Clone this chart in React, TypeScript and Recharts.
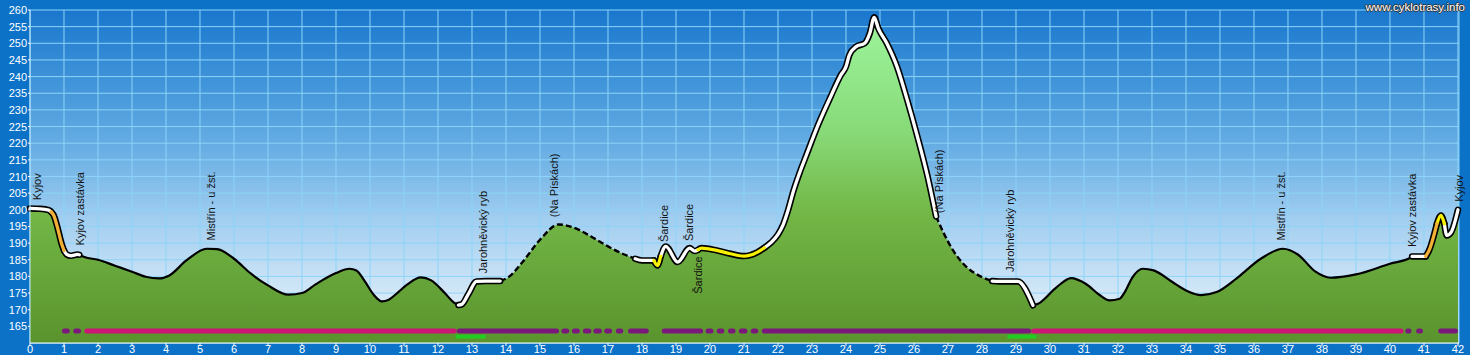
import React from "react";
import {
  Area,
  CartesianGrid,
  ComposedChart,
  Line,
  ReferenceLine,
  Scatter,
  XAxis,
  YAxis,
} from "recharts";

// elevation profile (km, m) - ten per row
const KM = [
  0, 0.3, 0.55, 0.62, 0.7, 0.8, 0.93, 1.0, 1.08, 1.2,
  1.4, 1.45, 1.6, 2.0, 2.5, 3.0, 3.4, 3.8, 4.1, 4.6,
  5.2, 5.5, 6.0, 6.5, 7.0, 7.6, 8.0, 8.4, 9.0, 9.4,
  9.6, 9.85, 10.1, 10.35, 10.55, 10.8, 11.1, 11.5, 11.8, 12.2,
  12.45, 12.6, 12.7, 12.9, 13.13, 13.4, 13.83, 14.1, 14.5, 15.0,
  15.55, 16.0, 16.5, 17.0, 17.5, 17.8, 18.0, 18.35, 18.45, 18.55,
  18.7, 19.05, 19.4, 19.55, 19.65, 19.75, 20.2, 20.6, 21.0, 21.4,
  21.6, 21.8, 22.0, 22.15, 22.3, 22.45, 22.65, 22.8, 23.2, 23.55,
  23.85, 24.0, 24.1, 24.3, 24.55, 24.7, 24.83, 24.95, 25.2, 25.5,
  25.8, 26.1, 26.4, 26.65, 26.85, 27.15, 27.55, 28.0, 28.3, 28.5,
  29.05, 29.5, 29.65, 30.2, 30.62, 31.05, 31.45, 31.75, 32.05, 32.2,
  32.43, 32.73, 33.05, 33.6, 34.0, 34.45, 34.9, 35.5, 36.2, 36.85,
  37.3, 37.8, 38.25, 39.0, 40.0, 40.6, 40.65, 41.05, 41.15, 41.38,
  41.5, 41.6, 41.67, 41.8, 42.0,
];
const ELE = [
  200.4, 200.3, 199.9, 199.4, 198.3, 195, 189.8, 187.8, 186.6, 186.2,
  186.6, 186.5, 185.8, 185, 183.2, 181.4, 179.9, 179.4, 180.3, 184.8,
  188.3, 188.2, 185.3, 180.8, 177.3, 174.5, 175, 177.6, 181, 182.3,
  181.8, 178.5, 174.6, 172.5, 173.0, 175, 177.6, 179.7, 178.8, 175,
  172.3, 171.4, 171.6, 174.8, 178.5, 178.6, 178.6, 180, 184.5, 191,
  195.6, 194.6, 192, 189, 186.5, 185.3, 184.8, 184.8, 183.3, 186,
  189, 184.3, 188.5, 187.6, 188, 188.5, 187.8, 186.8, 186.1, 187.3,
  188.6, 190.2, 192.6, 195.5, 200, 205.5, 211.5, 215.5, 226, 234,
  240.5, 243, 246.5, 249, 250, 253, 257.8, 254.5, 250, 243,
  233, 222, 210, 198, 193.5, 187.8, 182.8, 179.8, 178.6, 178.5,
  178.5, 171.3, 171.8, 176.8, 179.5, 177.8, 174.5, 172.8, 173.3, 175.3,
  179.8, 182.3, 181.8, 178.3, 175.8, 174.4, 175.3, 179.5, 185.3, 188.3,
  186.5, 181.5, 179.6, 180.6, 183.8, 185.6, 186, 186, 187.8, 195.8,
  198.3, 195.8, 192.3, 193.3, 200,
];

// how each stretch of the profile line is drawn
const SEG_START = [0, 0.62, 1.0, 1.45, 12.6, 13.83, 17.8, 18.35, 18.55, 19.65, 21.6, 26.65, 28.3, 29.5, 40.65, 41.05, 41.38, 41.6];
const SEG_END = [0.62, 1.0, 1.45, 12.6, 13.83, 17.8, 18.35, 18.55, 19.65, 21.6, 26.65, 28.3, 29.5, 40.65, 41.05, 41.38, 41.6, 42];
const SEG_STYLE = ["white", "orange", "white", "solid", "white", "dashed", "white", "yellow", "white", "yellow", "white", "dashed", "white", "solid", "white", "orange", "yellow", "white"];

// place names (text foot sits at LABEL_ELE)
const LABEL_TEXT = ["Kyjov", "Kyjov zastávka", "Mistřín - u žst.", "Jarohněvický ryb", "(Na Pískách)", "Šardice", "Šardice", "Šardice", "(Na Pískách)", "Jarohněvický ryb", "Mistřín - u žst.", "Kyjov zastávka", "Kyjov"];
const LABEL_KM = [0.21, 1.47, 5.31, 13.31, 15.4, 18.64, 19.38, 19.64, 26.73, 28.81, 36.79, 40.66, 42.03];
const LABEL_ELE = [202.9, 189.3, 190.8, 180.9, 197.8, 190.3, 190.6, 174.8, 199.0, 181.3, 190.8, 188.8, 202.4];

// surface bar along the bottom (p = purple, m = magenta)
const BAR_START = [0.94, 1.27, 1.6, 12.55, 15.63, 15.94, 16.26, 16.57, 16.89, 17.23, 17.59, 18.58, 19.87, 20.2, 20.53, 20.85, 21.2, 21.52, 29.45, 40.45, 40.77, 41.42];
const BAR_END = [1.17, 1.5, 12.55, 15.56, 15.86, 16.17, 16.51, 16.82, 17.12, 17.45, 18.2, 19.8, 20.1, 20.42, 20.75, 21.1, 21.42, 29.45, 40.4, 40.63, 40.97, 42.0];
const BAR_KIND = ["p", "p", "m", "p", "p", "p", "p", "p", "p", "p", "p", "p", "p", "p", "p", "p", "p", "p", "m", "p", "p", "p"];

const GREEN_START = [12.52, 28.75];
const GREEN_END = [13.4, 29.6];

const X_TICKS = Array.from({ length: 43 }, (_, i) => i);
const Y_TICKS = [165, 170, 175, 180, 185, 190, 195, 200, 205, 210, 215, 220, 225, 230, 235, 240, 245, 250, 255, 260];

const FONT = "'Liberation Sans', Arial, sans-serif";
const STYLES = ["solid", "dashed", "white", "yellow", "orange"];
const FILL: Record<string, string> = { white: "#ffffff", yellow: "#f7f000", orange: "#f2b136" };
const BAR_COLOR: Record<string, string> = { p: "#7b187c", m: "#cc1676" };
const BAR_Y = 163.6;
const GREEN_Y = 161.9;
const CAP = 0.073; // half of bar width, in km

const rows = KM.map((km, i) => {
  const row: Record<string, number | null> = { km, ele: ELE[i] };
  STYLES.forEach((s) => (row[s] = null));
  SEG_STYLE.forEach((s, j) => {
    if (km >= SEG_START[j] - 1e-9 && km <= SEG_END[j] + 1e-9) row[s] = ELE[i];
  });
  return row;
});

const labels = LABEL_TEXT.map((text, i) => ({ km: LABEL_KM[i], ele: LABEL_ELE[i], text }));

const XTick = ({ x, y, payload }: any) => (
  <text x={x} y={y} dy={6.5} textAnchor="middle" fill="#fff" fontSize={11} fontFamily={FONT}>
    {payload.value}
  </text>
);

const YTick = ({ x, y, payload }: any) => (
  <text x={x} y={y} dy={4} textAnchor="end" fill="#fff" fontSize={11} fontFamily={FONT}>
    {payload.value}
  </text>
);

const PlaceLabel = (p: any) => (
  <text
    x={p.cx}
    y={p.cy}
    dy={4}
    transform={`rotate(-90 ${p.cx} ${p.cy})`}
    textAnchor="start"
    fill="#111"
    fontSize={11}
    fontFamily={FONT}
  >
    {p.payload.text}
  </text>
);

export default function App() {
  return (
    <div
      style={{
        position: "absolute",
        left: 0,
        top: 0,
        width: 1470,
        height: 355,
        background: "#0b72c8",
        overflow: "hidden",
      }}
    >
      <ComposedChart
        width={1470}
        height={355}
        data={rows}
        margin={{ top: 10, right: 11, bottom: 0, left: 0 }}
      >
        <defs>
          <linearGradient id="sky" x1="0" y1="0" x2="0" y2="1">
            <stop offset="0%" stopColor="#1a77cd" />
            <stop offset="27%" stopColor="#4a9bdc" />
            <stop offset="45%" stopColor="#70b3e6" />
            <stop offset="63%" stopColor="#a2cef0" />
            <stop offset="87%" stopColor="#d6e9f8" />
            <stop offset="100%" stopColor="#e8f3fb" />
          </linearGradient>
          <linearGradient id="ground" x1="0" y1="0" x2="0" y2="1">
            <stop offset="0%" stopColor="#9cf59c" />
            <stop offset="35%" stopColor="#88da78" />
            <stop offset="60%" stopColor="#73b747" />
            <stop offset="100%" stopColor="#5a932c" />
          </linearGradient>
        </defs>
        <CartesianGrid fill="url(#sky)" fillOpacity={1} stroke="#8dd4f8" strokeWidth={1} />
        <XAxis
          dataKey="km"
          type="number"
          domain={[0, 42]}
          ticks={X_TICKS}
          interval={0}
          height={12}
          tickSize={3}
          tickMargin={0}
          axisLine={{ stroke: "#ffffff" }}
          tickLine={{ stroke: "#ffffff" }}
          tick={XTick}
        />
        <YAxis
          type="number"
          domain={[160, 260]}
          ticks={Y_TICKS}
          interval={0}
          width={30}
          tickSize={2}
          tickMargin={1}
          axisLine={{ stroke: "#c4e8fb" }}
          tickLine={{ stroke: "#ffffff" }}
          tick={YTick}
        />
        <Area
          dataKey="ele"
          type="monotone"
          stroke="none"
          fill="url(#ground)"
          fillOpacity={1}
          isAnimationActive={false}
        />
        <Line dataKey="solid" type="monotone" stroke="#000" strokeWidth={2.2} dot={false} activeDot={false} isAnimationActive={false} />
        <Line dataKey="dashed" type="monotone" stroke="#000" strokeWidth={2.4} strokeDasharray="6 3" dot={false} activeDot={false} isAnimationActive={false} />
        {["white", "yellow", "orange"].map((k) => (
          <Line key={"edge-" + k} dataKey={k} type="monotone" stroke="#000" strokeWidth={6.5} strokeLinejoin="round" strokeLinecap="round" dot={false} activeDot={false} isAnimationActive={false} />
        ))}
        {["white", "yellow", "orange"].map((k) => (
          <Line key={"core-" + k} dataKey={k} type="monotone" stroke={FILL[k]} strokeWidth={3.3} strokeLinejoin="round" strokeLinecap="round" dot={false} activeDot={false} isAnimationActive={false} />
        ))}
        {BAR_START.map((s, i) => (
          <ReferenceLine
            key={"bar" + i}
            segment={[{ x: s + CAP, y: BAR_Y }, { x: BAR_END[i] - CAP, y: BAR_Y }]}
            stroke={BAR_COLOR[BAR_KIND[i]]}
            strokeWidth={5}
            strokeLinecap="round"
            ifOverflow="visible"
          />
        ))}
        {GREEN_START.map((s, i) => (
          <ReferenceLine
            key={"green" + i}
            segment={[{ x: s, y: GREEN_Y }, { x: GREEN_END[i], y: GREEN_Y }]}
            stroke="#22cc22"
            strokeWidth={4}
            ifOverflow="visible"
          />
        ))}
        <Scatter data={labels} dataKey="ele" shape={PlaceLabel} isAnimationActive={false} />
      </ComposedChart>
      <div
        style={{
          position: "absolute",
          right: 5,
          top: 0,
          fontFamily: FONT,
          fontSize: 11.5,
          color: "#fff",
          textShadow: "1px 0 #333, -1px 0 #333, 0 1px #333, 0 -1px #333",
          lineHeight: "14px",
        }}
      >
        www.cyklotrasy.info
      </div>
    </div>
  );
}
